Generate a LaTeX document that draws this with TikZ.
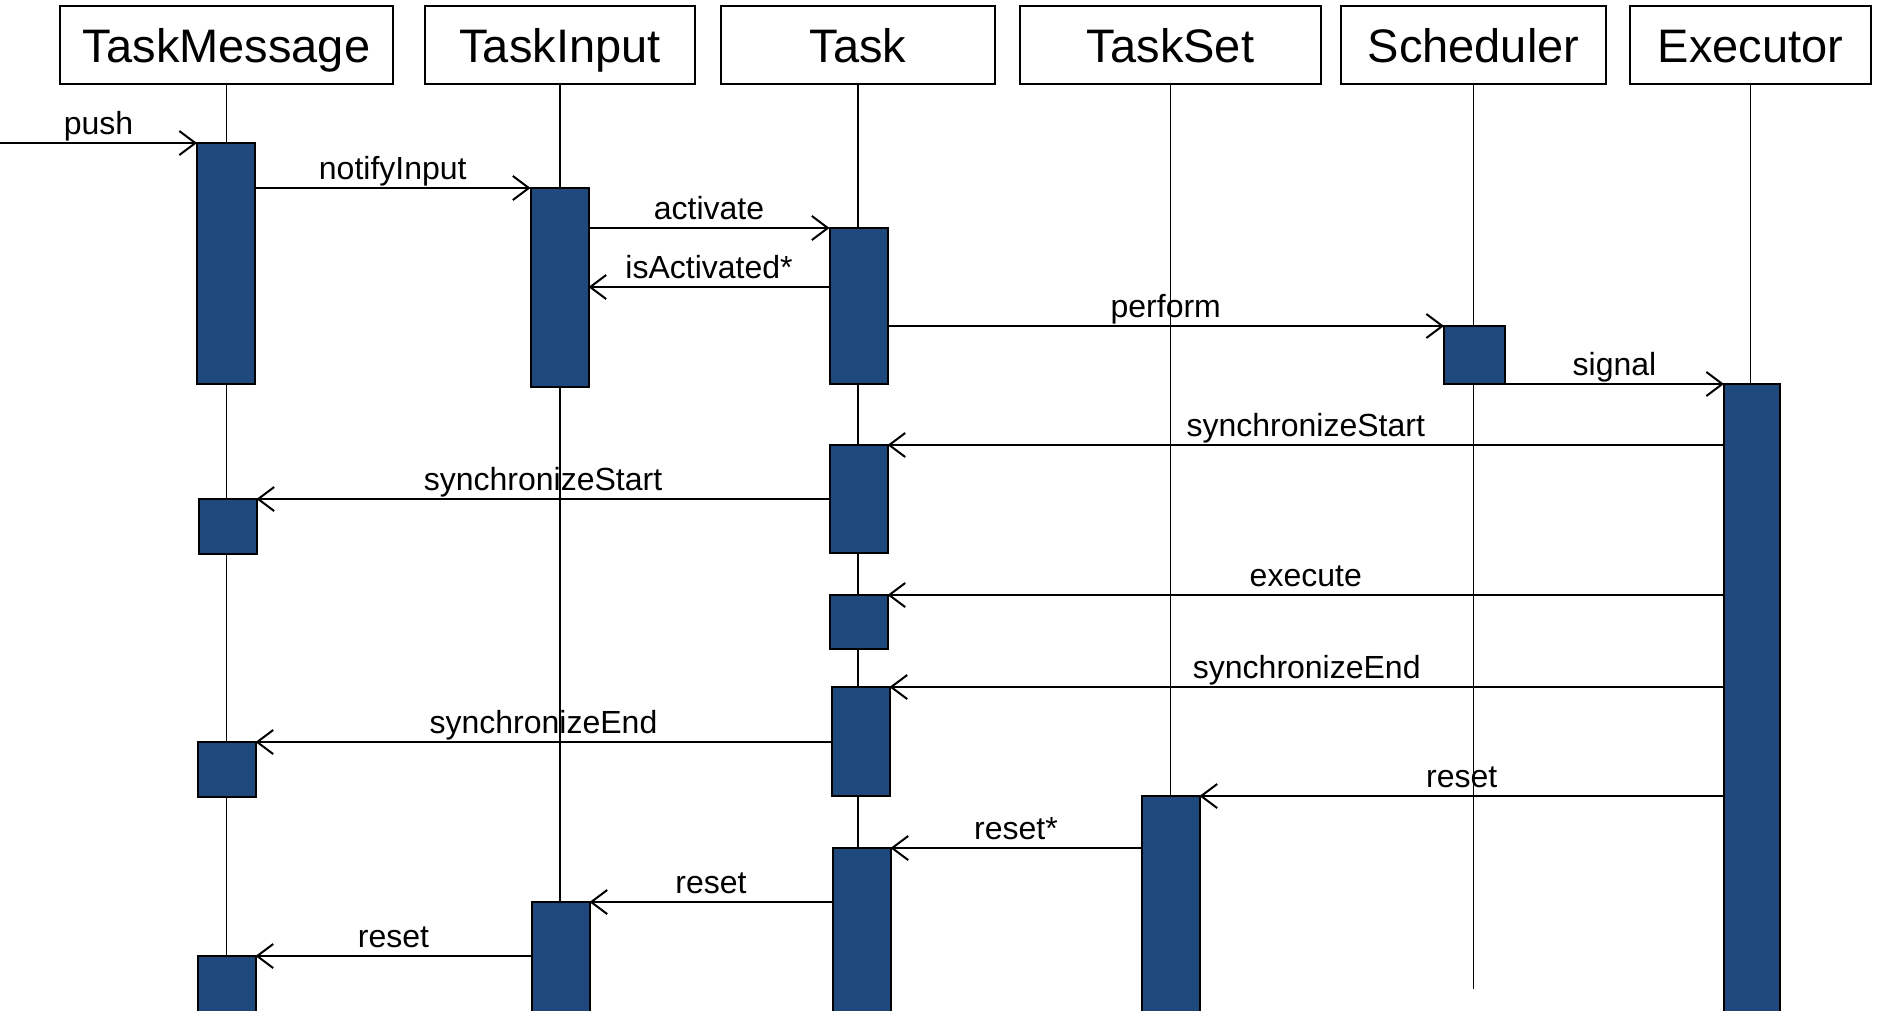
\documentclass[tikz,border=0pt]{standalone}
\usepackage{fontspec}
\setmainfont{Liberation Sans}
\usetikzlibrary{arrows.meta}
\definecolor{actblue}{RGB}{31,73,125}
\begin{document}
\begin{tikzpicture}[x=1pt,y=-1pt,
  head/.style={draw=black, line width=2pt, fill=white, inner sep=0pt, minimum height=78pt,
    font=\fontsize{47pt}{50pt}\selectfont, text height=34pt, text depth=0pt},
  life/.style={draw=black, line width=1.6pt},
  act/.style={draw=black, line width=2pt, fill=actblue, inner sep=0pt, outer sep=0pt, minimum width=58pt},
  msg/.style={draw=black, line width=2pt, -{Straight Barb[length=16pt,width=24pt,line width=2pt]}},
  lbl/.style={font=\fontsize{32pt}{34pt}\selectfont, anchor=base, yshift=9pt, inner sep=0pt}
]
\clip (0,0) rectangle (1878,1010);
\fill[white] (0,0) rectangle (1878,1010);

% headers
\node[head, minimum width=333pt] (hTM) at (226.5,45) {TaskMessage};
\node[head, minimum width=270pt] (hTI) at (560,45) {TaskInput};
\node[head, minimum width=274pt] (hT)  at (858,45) {Task};
\node[head, minimum width=301pt] (hTS) at (1170.5,45) {TaskSet};
\node[head, minimum width=265pt] (hS)  at (1473.5,45) {Scheduler};
\node[head, minimum width=241pt] (hE)  at (1750.5,45) {Executor};

% lifelines
\coordinate (bot) at (0,1012);
\coordinate (sbot) at (0,989);
\draw[life] (hTM.south) -- (hTM.south |- bot);
\draw[life] (hTI.south) -- (hTI.south |- bot);
\draw[life] (hT.south) -- (hT.south |- bot);
\draw[life] (hTS.south) -- (hTS.south |- bot);
\draw[life] (hS.south) -- (hS.south |- sbot);
\draw[life] (hE.south) -- (hE.south |- bot);

% activation boxes
\node[act, minimum height=241pt] (tm1) at (226,263.5) {};
\node[act, minimum height=55pt]  (tm2) at (227.5,526.5) {};
\node[act, minimum height=55pt]  (tm3) at (226.5,769.5) {};
\node[act, minimum height=64pt]  (tm4) at (226.5,988) {};
\node[act, minimum height=199pt] (ti1) at (559.5,287.5) {};
\node[act, minimum height=118pt] (ti2) at (560.5,961) {};
\node[act, minimum height=156pt] (t1)  at (858.5,306) {};
\node[act, minimum height=108pt] (t2)  at (858.5,499) {};
\node[act, minimum height=54pt]  (t3)  at (858.5,622) {};
\node[act, minimum height=109pt] (t4)  at (860.5,741.5) {};
\node[act, minimum height=172pt] (t5)  at (861.5,934) {};
\node[act, minimum height=224pt] (ts1) at (1170.5,908) {};
\node[act, minimum height=58pt, minimum width=61pt] (s1) at (1474.5,355) {};
\node[act, minimum height=636pt, minimum width=56pt] (e1) at (1752,702) {};

% messages
\coordinate (pushsrc) at (0,143);
\coordinate (isa) at (0,287);
\draw[msg] (pushsrc) -- node[lbl] (l1) {push} (tm1.north west);
\draw[msg] (tm1.east |- ti1.north) -- node[lbl] (l2) {notifyInput} (ti1.north west);
\draw[msg] (ti1.east |- t1.north) -- node[lbl] (l3) {activate} (t1.north west);
\draw[msg] (t1.west |- isa) -- node[lbl] (l4) {isActivated*} (ti1.east |- isa);
\draw[msg] (t1.east |- s1.north) -- node[lbl] (l5) {perform} (s1.north west);
\draw[msg] (s1.south east) -- node[lbl] (l6) {signal} (e1.north west);
\draw[msg] (e1.west |- t2.north) -- node[lbl] (l7) {synchronizeStart} (t2.north east);
\draw[msg] (t2.west |- tm2.north) -- node[lbl] (l8) {synchronizeStart} (tm2.north east);
\draw[msg] (e1.west |- t3.north) -- node[lbl] (l9) {execute} (t3.north east);
\draw[msg] (e1.west |- t4.north) -- node[lbl] (l10) {synchronizeEnd} (t4.north east);
\draw[msg] (t4.west |- tm3.north) -- node[lbl] (l11) {synchronizeEnd} (tm3.north east);
\draw[msg] (e1.west |- ts1.north) -- node[lbl] (l12) {reset} (ts1.north east);
\draw[msg] (ts1.west |- t5.north) -- node[lbl] (l13) {reset*} (t5.north east);
\draw[msg] (t5.west |- ti2.north) -- node[lbl] (l14) {reset} (ti2.north east);
\draw[msg] (ti2.west |- tm4.north) -- node[lbl] (l15) {reset} (tm4.north east);
\end{tikzpicture}
\end{document}
